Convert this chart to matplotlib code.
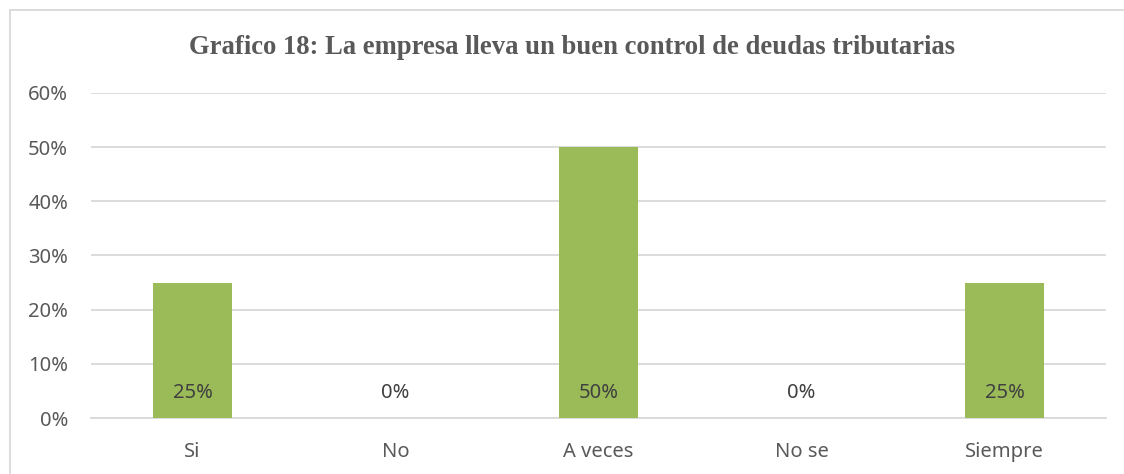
import matplotlib.pyplot as plt
from matplotlib.ticker import PercentFormatter
from matplotlib.lines import Line2D

categorias = ["Si", "No", "A veces", "No se", "Siempre"]
valores = [0.25, 0.0, 0.50, 0.0, 0.25]
etiquetas = ["25%", "0%", "50%", "0%", "25%"]
titulo = "Grafico 18: La empresa lleva un buen control de deudas tributarias"

W, H = 1124, 474
fig = plt.figure(figsize=(W / 100, H / 100), dpi=100)
ax = fig.add_axes([91 / W, 1 - 418 / H, (1106 - 91) / W, (418 - 93) / H])

fuente = "Noto Sans"
x = range(len(categorias))
ax.bar(x, valores, width=0.394, color="#9bbb59", zorder=3)
for i, t in zip(x, etiquetas):
    ax.text(i, 0.046, t, ha="center", va="center", fontsize=14.5,
            family=fuente, color="#404040", zorder=4)

ax.set_xlim(-0.5, len(categorias) - 0.5)
ax.set_ylim(0, 0.6)
ax.set_yticks([0, 0.1, 0.2, 0.3, 0.4, 0.5, 0.6])
ax.yaxis.set_major_formatter(PercentFormatter(1.0, decimals=0))
ax.set_xticks(list(x))
ax.set_xticklabels(categorias)
ax.grid(axis="y", color="#d9d9d9", linewidth=1.3, zorder=0)
for s in ["top", "right", "left"]:
    ax.spines[s].set_visible(False)
ax.spines["bottom"].set_color("#d9d9d9")
ax.spines["bottom"].set_linewidth(1.3)
ax.tick_params(length=0, labelsize=14.5, labelcolor="#595959")
ax.tick_params(axis="y", pad=16.5)
ax.tick_params(axis="x", pad=17)
for lab in ax.get_xticklabels() + ax.get_yticklabels():
    lab.set_family(fuente)

fig.text(572 / W, 1 - 48 / H, titulo, ha="center", va="center", fontsize=19.2,
         fontweight="bold", family="Liberation Serif", color="#595959")

# marco del grafico
fig.add_artist(Line2D([10 / W, 10 / W], [0, 1 - 10 / H], color="#d9d9d9", lw=1.3))
fig.add_artist(Line2D([10 / W, 1], [1 - 10 / H, 1 - 10 / H], color="#d9d9d9", lw=1.3))

fig.savefig("out.png", dpi=100)
